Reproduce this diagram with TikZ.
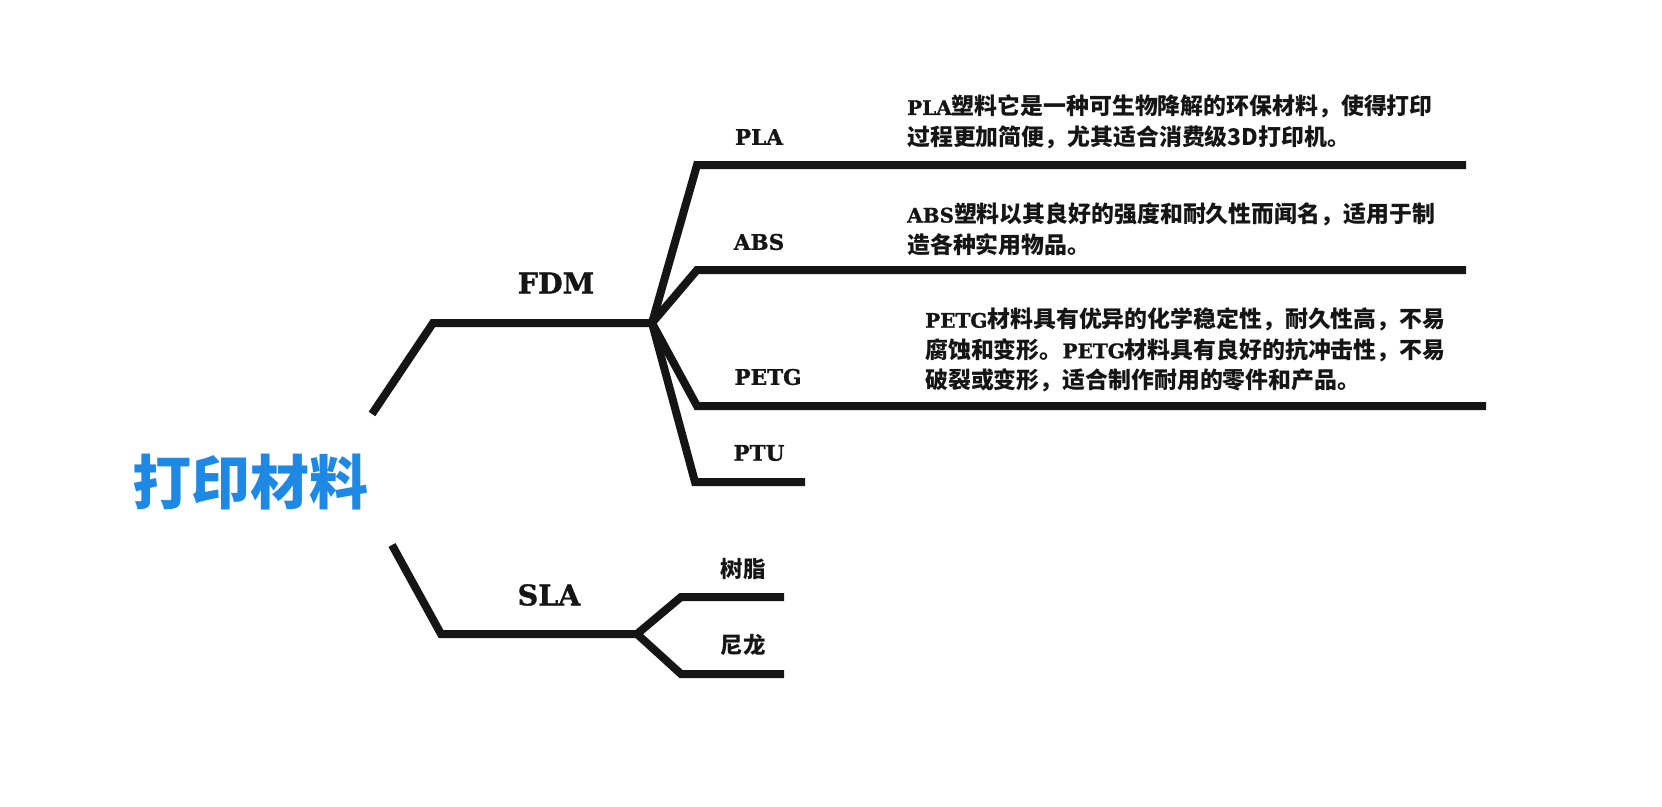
\documentclass[tikz,border=0pt]{standalone}
\usepackage{fontspec}
\newfontfamily\cjk{Noto Sans CJK SC}
\newfontfamily\slab{DejaVu Serif}[BoldFeatures={FakeBold=1.2}]
\definecolor{rootblue}{HTML}{1E88E5}
\definecolor{ink}{HTML}{151515}
\tikzset{
  branch/.style={draw=ink, line width=8pt, line join=miter},
  big/.style={font=\slab\bfseries\fontsize{28.5}{34}\selectfont, text=ink, inner sep=0pt},
  sub/.style={font=\slab\bfseries\fontsize{21.5}{26}\selectfont, text=ink, inner sep=0pt},
  subcjk/.style={font=\cjk\bfseries\fontsize{22.5}{26}\selectfont, text=ink, inner sep=0pt},
  desc/.style={font=\cjk\bfseries\fontsize{22.9}{30.5}\selectfont, text=ink, inner sep=0pt, anchor=west, align=left},
}
\newcommand{\lat}[1]{{\slab\bfseries\fontsize{20}{30.5}\selectfont #1}}
\begin{document}
\begin{tikzpicture}[x=1pt,y=-1pt]
\useasboundingbox (0,0) rectangle (1662,806);
% root
\node[font=\cjk\bfseries\fontsize{59}{64}\selectfont, text=rootblue, inner sep=0pt] (root) at (250,482) {打印材料};
% coordinates
\coordinate (f0) at (372,414);
\coordinate (f1) at (433,323);
\coordinate (fj) at (652,323);
\coordinate (s0) at (392,545);
\coordinate (s1) at (441,634);
\coordinate (sj) at (637,634);
\coordinate (pla1) at (697,165); \coordinate (pla2) at (1466,165);
\coordinate (abs1) at (697,270); \coordinate (abs2) at (1466,270);
\coordinate (petg1) at (697,406); \coordinate (petg2) at (1486,406);
\coordinate (ptu1) at (695,482); \coordinate (ptu2) at (805,482);
\coordinate (sz1) at (681,597); \coordinate (sz2) at (784,597);
\coordinate (nl1) at (681,674); \coordinate (nl2) at (784,674);
% branches
\draw[branch] (f0) -- (f1) -- (fj);
\draw[branch] (s0) -- (s1) -- (sj);
\draw[branch] (fj) -- (pla1) -- (pla2);
\draw[branch] (fj) -- (abs1) -- (abs2);
\draw[branch] (fj) -- (petg1) -- (petg2);
\draw[branch] (fj) -- (ptu1) -- (ptu2);
\draw[branch] (sj) -- (sz1) -- (sz2);
\draw[branch] (sj) -- (nl1) -- (nl2);
% labels
\node[big] (fdm) at (556,283) {FDM};
\node[big] (sla) at (549,595) {SLA};
\node[sub] (pla) at (759,137) {PLA};
\node[sub] (abs) at (759,242) {ABS};
\node[sub] (petg) at (768,377) {PETG};
\node[sub] (ptu) at (759,453) {PTU};
\node[subcjk] (sz) at (743,569) {树脂};
\node[subcjk] (nl) at (743,645) {尼龙};
% descriptions
\node[desc] (pladesc) at (907,122) {\lat{PLA}塑料它是一种可生物降解的环保材料，使得打印\\过程更加简便，尤其适合消费级3D打印机。};
\node[desc] (absdesc) at (907,229) {\lat{ABS}塑料以其良好的强度和耐久性而闻名，适用于制\\造各种实用物品。};
\node[desc] (petgdesc) at (925,350) {\lat{PETG}材料具有优异的化学稳定性，耐久性高，不易\\腐蚀和变形。\lat{PETG}材料具有良好的抗冲击性，不易\\破裂或变形，适合制作耐用的零件和产品。};
\end{tikzpicture}
\end{document}
